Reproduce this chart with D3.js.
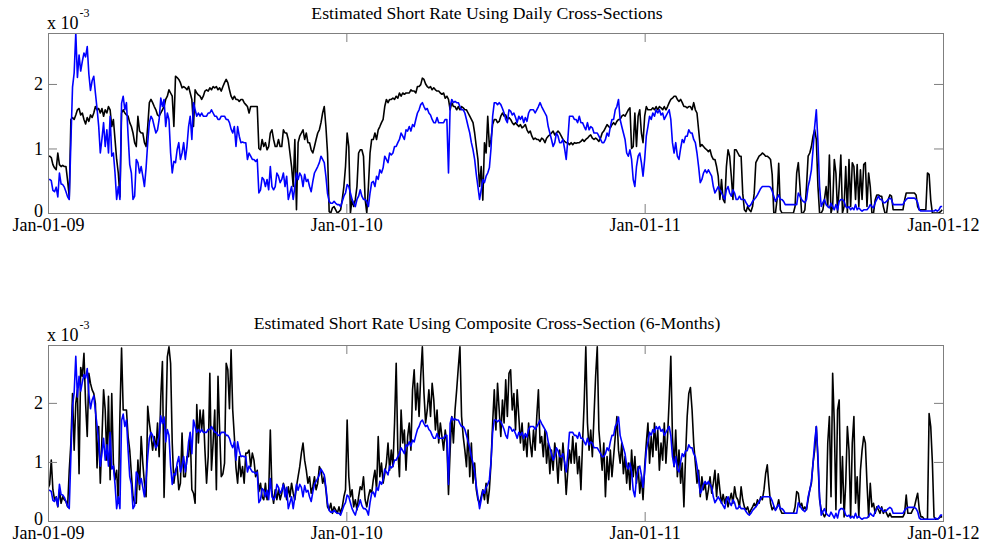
<!DOCTYPE html>
<html>
<head>
<meta charset="utf-8">
<script src="https://cdn.jsdelivr.net/npm/d3@7"></script>
<style>
  html, body { margin: 0; padding: 0; background: #fff; }
  svg { display: block; }
  svg text { font-family: "Liberation Serif", "Times New Roman", Times, serif; }
</style>
</head>
<body>
<svg id="chart" width="982" height="550"></svg>
<script>
// ---- data (rates in units of 10^-3, one observation every two days from Jan-01-09) ----
const startDate = new Date(2009, 0, 1);
const endDate = new Date(2012, 0, 1);
const stepDays = 2;
const tickDates = [new Date(2009, 0, 1), new Date(2010, 0, 1), new Date(2011, 0, 1), new Date(2012, 0, 1)];
const yTickValues = [0, 1, 2];
const scaleExponent = "-3";
const panelTitles = [
  "Estimated Short Rate Using Daily Cross-Sections",
  "Estimated Short Rate Using Composite Cross-Section (6-Months)"
];

// market short rate (blue, shown in both panels)
const marketRate = [
  0.52,0.52,0.50,0.35,0.33,0.40,0.25,0.62,0.45,0.44,0.40,0.33,0.25,0.21,
  1.10,1.95,2.17,2.79,2.10,2.45,2.20,2.35,2.48,2.42,2.58,2.15,1.90,2.05,2.12,1.86,
  1.62,1.35,0.93,1.15,1.40,1.03,1.29,0.93,1.50,0.88,0.93,0.62,0.21,0.41,0.21,
  1.70,1.81,1.60,1.71,1.20,0.75,0.62,0.21,0.26,0.83,0.78,0.62,0.72,0.57,0.41,
  0.70,1.09,1.40,1.50,1.45,1.34,1.24,1.29,1.45,1.78,1.65,1.76,1.34,1.55,1.45,
  0.93,0.62,0.80,0.78,0.98,1.09,0.83,0.93,1.09,0.83,1.03,1.34,1.50,1.14,1.71,
  1.60,1.50,1.55,1.50,1.55,1.50,1.50,1.50,1.55,1.55,1.60,1.55,1.50,1.50,1.45,
  1.45,1.50,1.50,1.50,1.45,1.45,1.40,1.30,1.24,1.34,1.03,1.34,1.19,1.09,1.10,
  1.09,1.09,0.83,0.93,0.88,0.83,0.83,0.80,0.83,0.31,
  0.36,0.55,0.52,0.41,0.52,0.36,0.72,0.41,0.36,0.41,0.62,0.57,0.47,0.52,0.62,
  0.41,0.57,0.21,0.31,0.41,0.21,0.41,0.62,0.52,0.62,0.57,0.41,0.60,0.49,0.52,
  0.41,0.33,0.49,0.62,0.67,0.72,0.78,0.88,0.83,0.78,0.57,0.30,0.18,0.15,0.15,
  0.18,0.15,0.13,0.13,0.10,0.18,0.26,0.31,0.44,0.41,0.31,0.21,0.15,0.10,0.21,
  0.26,0.36,0.26,0.21,0.21,0.18,0.10,0.31,0.47,0.49,0.41,0.57,0.52,0.67,0.62,
  0.70,0.88,0.83,0.78,0.93,0.90,0.93,1.03,1.03,1.09,1.14,1.24,1.19,1.14,1.29,
  1.27,1.34,1.27,1.37,1.34,1.45,1.55,1.60,1.68,1.71,1.65,1.60,1.62,1.55,1.52,
  1.45,1.40,1.40,1.48,1.40,1.40,1.40,1.40,1.45,1.45,0.62,1.65,1.76,1.71,1.73,
  1.71,1.71,1.65,1.60,1.60,1.55,1.45,1.34,1.24,1.09,0.98,0.83,0.60,0.41,0.21,
  0.36,0.52,0.47,0.57,0.62,0.70,1.00,1.50,1.71,1.71,1.68,1.71,
  1.68,1.62,1.55,1.45,1.40,1.60,1.58,1.52,1.55,1.48,1.40,1.50,1.45,1.50,1.40,
  1.48,1.42,1.55,1.60,1.60,1.60,1.55,1.60,1.65,1.71,1.65,1.60,1.55,1.50,1.34,
  1.24,1.14,1.03,1.09,1.24,1.19,1.09,1.09,1.14,1.00,0.83,1.14,1.50,1.50,1.50,
  1.45,1.45,1.40,1.50,1.40,1.40,1.34,1.29,1.40,1.29,1.34,1.32,1.24,1.24,1.24,
  1.19,1.14,1.09,1.09,1.14,1.24,1.19,1.34,1.45,1.45,1.60,1.65,1.76,1.45,1.34,
  1.24,1.14,0.93,0.88,0.98,0.83,0.52,0.41,0.72,0.88,0.93,0.78,0.57,0.83,1.19,
  1.34,1.50,1.45,1.55,1.50,1.60,1.55,1.60,1.52,1.55,1.45,1.50,1.55,1.60,1.45,
  1.09,0.93,1.09,0.88,0.83,1.00,1.14,1.09,1.19,1.19,1.29,1.24,1.24,1.14,1.09,
  0.93,0.72,0.47,0.52,0.62,0.67,0.62,0.67,0.62,0.57,0.41,0.31,0.36,0.41,0.36,
  0.31,0.26,0.21,0.36,0.41,0.31,0.26,0.36,0.31,0.21,0.21,0.26,
  0.21,0.21,0.21,0.16,0.12,0.10,0.13,0.18,0.21,0.24,0.28,0.33,0.38,0.41,0.41,
  0.41,0.41,0.41,0.40,0.34,0.26,0.18,0.23,0.28,0.21,0.21,0.18,0.13,0.13,0.13,
  0.13,0.13,0.13,0.13,0.13,0.31,0.26,0.21,0.18,0.16,0.21,0.41,0.52,0.67,0.98,
  1.34,1.60,1.10,0.41,0.10,0.16,0.21,0.13,0.10,0.08,0.15,0.10,0.05,0.13,0.05,
  0.18,0.21,0.21,0.18,0.10,0.08,0.10,0.05,0.08,0.05,0.13,0.05,0.08,0.05,0.03,
  0.05,0.05,0.05,0.08,0.13,0.10,0.08,0.16,0.21,0.26,0.21,0.21,0.16,0.16,0.18,
  0.21,0.23,0.21,0.13,0.13,0.13,0.13,0.13,0.13,0.13,0.18,0.21,0.23,0.23,0.23,
  0.23,0.23,0.21,0.16,0.05,0.03,0.03,0.03,0.03,0.03,0.03,0.03,0.03,0.03,0.05,
  0.03,0.05,0.10,0.10
];

// short rate estimated from daily cross-sections (black, top panel)
const dailyEstimate = [
  0.88,0.88,0.86,0.75,0.70,0.67,0.93,0.75,0.72,0.74,0.72,0.72,0.50,0.25,
  1.45,1.48,1.45,1.52,1.60,1.62,1.52,1.55,1.45,1.38,1.48,1.42,1.52,1.48,1.55,1.65,
  1.60,1.62,1.55,1.62,1.50,1.60,1.55,1.65,1.60,1.34,1.45,1.14,0.83,0.62,0.25,
  1.55,1.60,1.55,1.52,1.50,1.40,1.34,1.24,1.09,1.03,1.50,1.27,1.24,1.24,1.09,
  1.03,1.34,1.71,1.76,1.71,1.65,1.60,1.52,1.50,1.55,1.60,1.65,1.76,1.81,1.91,
  1.86,1.81,1.34,2.12,2.10,2.07,2.02,1.94,1.96,1.94,1.91,1.96,1.86,1.76,1.34,
  1.91,1.86,1.83,1.81,1.76,1.81,1.89,1.91,1.89,1.94,1.91,1.96,1.94,1.96,1.91,
  1.94,1.89,1.96,2.02,2.07,2.02,1.91,1.81,1.76,1.81,1.76,1.76,1.73,1.76,1.76,
  1.71,1.68,1.65,1.55,1.65,1.65,1.65,1.65,1.65,1.00,
  0.98,1.14,1.03,1.09,0.98,1.03,1.24,1.29,1.14,1.03,1.03,1.14,1.03,1.03,1.29,
  1.24,1.24,1.14,0.93,0.72,0.41,1.14,0.05,1.09,1.19,1.24,1.29,1.14,1.24,1.09,
  1.09,0.98,0.93,1.03,1.14,1.24,1.29,1.40,1.55,1.65,1.34,0.93,0.02,0.00,0.08,
  0.10,0.05,0.00,0.02,0.05,0.21,0.41,0.72,1.24,1.03,0.00,0.21,0.10,0.21,0.41,
  0.93,0.98,0.98,0.88,0.21,0.00,0.41,0.93,1.14,1.14,1.24,1.14,1.29,1.34,1.40,
  1.45,1.65,1.76,1.71,1.76,1.76,1.78,1.76,1.81,1.78,1.86,1.81,1.86,1.84,1.86,
  1.86,1.86,1.91,1.89,1.89,1.86,1.96,1.96,1.99,2.09,2.07,2.00,1.96,1.94,1.96,
  1.91,1.94,1.91,1.89,1.89,1.86,1.84,1.86,1.78,1.81,1.76,1.60,1.71,1.65,1.65,
  1.60,1.65,1.60,1.65,1.63,1.60,1.60,1.55,1.50,1.45,1.40,1.24,1.03,0.83,0.41,
  0.72,0.20,1.09,0.93,1.50,1.03,1.14,1.37,1.45,1.45,1.40,1.42,
  1.50,1.55,1.50,1.52,1.45,1.48,1.45,1.40,1.37,1.40,1.37,1.34,1.37,1.32,1.34,
  1.37,1.29,1.24,1.27,1.19,1.14,1.16,1.14,1.14,1.11,1.16,1.14,1.09,1.16,1.19,
  1.21,1.24,1.27,1.21,1.24,1.27,1.24,1.19,1.14,1.11,1.09,1.09,1.06,1.09,1.06,
  1.09,1.08,1.09,1.09,1.11,1.14,1.11,1.14,1.16,1.19,1.21,1.16,1.14,1.16,1.14,
  1.11,1.16,1.24,1.27,1.32,1.37,1.34,1.32,1.37,1.40,1.37,1.42,1.45,1.45,1.50,
  1.52,1.50,1.55,1.60,1.63,1.00,1.03,1.55,1.03,1.50,1.60,1.24,1.09,1.50,1.65,
  1.60,1.60,1.60,1.63,1.60,1.65,1.60,1.65,1.63,1.60,1.65,1.60,1.65,1.71,1.76,
  1.78,1.81,1.81,1.76,1.73,1.76,1.71,1.65,1.65,1.63,1.65,1.65,1.60,1.71,1.60,
  1.55,1.29,1.03,1.06,1.03,1.00,0.98,0.95,0.98,0.88,0.83,0.83,0.72,0.57,0.21,
  0.52,0.21,0.16,0.72,0.98,0.88,0.57,0.21,0.98,0.98,0.93,0.88,
  0.88,0.30,0.05,0.02,0.10,0.05,0.02,0.10,0.30,0.78,0.83,0.88,0.90,0.93,0.91,
  0.88,0.88,0.86,0.83,0.60,0.00,0.00,0.21,0.77,0.05,0.00,0.00,0.00,0.00,0.00,
  0.00,0.00,0.00,0.10,0.62,0.78,0.41,0.00,0.00,0.05,0.41,0.88,0.93,1.03,1.19,
  1.29,1.14,0.41,0.00,0.00,0.05,0.21,0.41,0.10,0.90,0.00,0.10,0.83,0.62,0.00,
  0.41,0.90,0.00,0.10,0.72,0.00,0.83,0.10,0.78,0.72,0.21,0.75,0.10,0.67,0.21,
  0.75,0.78,0.10,0.62,0.41,0.00,0.00,0.20,0.28,0.28,0.26,0.26,0.10,0.00,0.00,
  0.21,0.28,0.26,0.05,0.05,0.05,0.05,0.05,0.05,0.05,0.20,0.31,0.31,0.31,0.31,
  0.31,0.31,0.28,0.10,0.05,0.05,0.05,0.05,0.05,0.62,0.60,0.20,0.00,0.00,0.00,
  0.00,0.00,0.02,0.05
];

// short rate estimated from the composite 6-month cross-section (black, bottom panel)
const compositeEstimate = [
  0.55,0.62,1.03,0.53,0.36,0.41,0.24,0.53,0.30,0.41,0.36,0.33,0.24,0.86,
  1.32,2.16,1.20,1.99,2.22,0.80,2.60,2.45,2.84,1.99,1.43,2.50,2.33,2.22,2.16,1.99,
  0.90,1.60,0.64,1.40,2.22,1.88,1.03,2.11,0.70,2.16,0.98,0.70,0.86,0.30,1.80,
  2.93,1.88,1.88,1.88,1.43,1.20,0.80,0.41,0.30,0.30,1.03,0.53,1.43,0.98,0.64,
  0.41,1.94,1.66,1.45,1.20,1.43,1.20,1.66,1.09,2.10,2.70,0.40,1.50,2.78,2.95,
  2.67,1.32,0.64,0.86,0.92,0.53,0.64,1.49,0.75,0.75,1.09,1.09,1.49,0.53,0.47,
  0.30,1.97,1.32,1.88,1.54,1.88,1.20,0.64,1.09,2.50,0.86,1.32,1.88,0.53,2.45,
  1.54,0.75,0.80,0.98,2.67,2.56,1.90,2.90,1.88,1.43,0.90,0.64,1.09,0.75,0.92,
  0.64,1.15,1.15,1.20,0.92,1.15,1.03,0.75,0.86,0.50,
  0.64,0.41,0.36,0.64,0.36,0.47,1.54,0.50,0.30,0.53,0.36,0.53,0.36,0.47,0.64,
  0.53,0.36,0.58,0.41,0.64,0.47,0.36,0.58,0.75,0.92,1.15,1.32,1.03,0.86,0.64,
  0.75,0.47,0.58,0.75,0.53,0.64,0.92,0.86,0.64,0.75,0.53,0.24,0.19,0.30,0.13,
  0.24,0.19,0.13,0.24,0.13,0.24,0.41,0.53,1.71,0.75,0.41,0.53,0.24,0.36,0.19,
  0.41,0.58,0.53,0.75,0.36,0.24,0.41,0.53,0.47,0.70,0.86,0.53,1.43,0.75,0.98,
  0.64,0.80,0.98,1.32,0.86,1.20,0.92,1.66,2.67,1.20,0.75,1.88,1.32,1.54,0.86,
  1.43,1.66,1.20,2.22,2.56,1.88,2.33,1.77,2.45,2.95,2.16,1.66,1.88,2.22,1.77,
  2.33,2.05,1.54,1.88,1.32,1.66,1.43,1.20,1.54,1.32,0.45,1.20,1.77,1.32,1.88,
  2.22,2.60,2.95,1.77,1.43,1.20,0.92,1.54,0.75,1.32,0.64,0.98,0.53,0.36,0.30,
  0.41,0.53,0.36,0.64,0.30,0.53,0.98,1.66,2.22,1.54,2.33,1.88,
  1.43,2.05,1.66,2.39,1.77,2.50,2.56,1.88,2.16,1.54,2.22,1.77,1.32,1.66,1.20,
  1.43,1.09,1.66,1.32,1.09,1.54,1.20,1.77,2.22,1.32,1.43,1.09,1.54,0.98,1.32,
  0.80,1.20,0.86,1.32,1.09,0.64,1.20,0.86,1.32,0.98,0.45,0.86,1.20,0.98,1.43,
  0.98,1.32,0.80,1.09,0.53,1.32,2.00,2.95,1.66,1.20,1.54,1.09,1.77,2.45,2.95,
  1.54,1.20,0.86,1.32,0.41,1.09,0.70,1.20,0.75,1.09,1.43,1.77,1.20,0.98,1.32,
  0.80,1.09,0.64,0.98,0.53,1.20,0.75,1.09,0.64,0.92,0.47,0.75,0.36,0.92,1.32,
  1.66,0.98,1.43,1.09,1.66,1.20,1.54,0.86,1.32,1.03,1.66,0.98,1.43,2.05,2.79,
  1.43,0.92,1.54,0.75,1.20,0.64,0.98,0.24,1.09,1.77,2.16,2.26,1.88,1.32,0.98,
  0.64,0.86,0.41,0.75,0.53,0.64,0.36,0.53,0.75,0.47,0.64,0.86,0.41,0.80,0.53,
  0.30,0.45,0.30,0.41,0.24,0.36,0.47,0.30,0.58,0.41,0.36,0.24,
  0.58,0.36,0.24,0.19,0.24,0.13,0.19,0.24,0.30,0.24,0.36,0.30,0.41,0.36,0.53,
  0.80,0.95,0.60,0.30,0.19,0.24,0.19,0.24,0.36,0.19,0.13,0.13,0.13,0.13,0.13,
  0.13,0.13,0.13,0.24,0.50,0.47,0.24,0.30,0.19,0.24,0.19,0.36,0.53,0.64,0.98,
  1.20,1.60,1.03,0.36,0.19,0.13,0.07,0.13,1.32,1.77,0.41,2.50,1.66,0.19,1.88,
  2.05,0.30,1.09,0.07,0.64,1.60,1.20,0.07,1.32,1.77,0.30,0.75,0.07,0.86,1.20,
  1.43,1.32,0.64,0.07,0.64,0.24,0.30,0.13,0.24,0.19,0.13,0.24,0.13,0.19,0.13,
  0.07,0.13,0.07,0.07,0.07,0.07,0.07,0.07,0.07,0.07,0.13,0.44,0.13,0.13,0.13,
  0.19,0.24,0.36,0.47,0.19,0.07,0.07,0.03,0.03,0.03,1.82,1.60,1.00,0.07,0.03,
  0.03,0.05,0.07,0.07
];

// ---- layout ----
const plotLeft = 48, plotRight = 943;
const panels = [
  { title: panelTitles[0], top: 33, bottom: 213, yMax: 2.79, titleY: 19, estimate: dailyEstimate },
  { title: panelTitles[1], top: 345, bottom: 521, yMax: 2.98, titleY: 329, estimate: compositeEstimate }
];
const serif = '"Liberation Serif", "Times New Roman", Times, serif';
const fontSize = 18;
const axisGray = "#7f7f7f";
const tickLen = 9;

const svg = d3.select("#chart");
const dateAt = i => d3.timeDay.offset(startDate, i * stepDays);
const fmt = d3.timeFormat("%b-%d-%y");

const x = d3.scaleTime().domain([startDate, endDate]).range([plotLeft, plotRight]);

panels.forEach((p, pi) => {
  const y = d3.scaleLinear().domain([0, p.yMax]).range([p.bottom, p.top]);
  const g = svg.append("g");

  // plotting area clip
  const clipId = "clip" + pi;
  svg.append("clipPath").attr("id", clipId)
    .append("rect").attr("x", plotLeft).attr("y", p.top)
    .attr("width", plotRight - plotLeft).attr("height", p.bottom - p.top);

  const line = d3.line()
    .x((d, i) => x(dateAt(i)))
    .y(d => y(d));

  const lines = g.append("g").attr("clip-path", `url(#${clipId})`);
  lines.append("path").datum(p.estimate)
    .attr("d", line).attr("fill", "none")
    .attr("stroke", "#000").attr("stroke-width", 1.6).attr("stroke-linejoin", "round");
  lines.append("path").datum(marketRate)
    .attr("d", line).attr("fill", "none")
    .attr("stroke", "#0000ff").attr("stroke-width", 1.6).attr("stroke-linejoin", "round");

  // axes with inward ticks on all four sides
  const styleAxis = sel => {
    sel.attr("font-family", serif).attr("font-size", fontSize);
    sel.select(".domain").remove();
    sel.selectAll(".tick line").attr("stroke", axisGray);
    sel.selectAll(".tick text").attr("fill", "#000").attr("font-family", serif);
  };
  g.append("g").attr("transform", `translate(0,${p.bottom})`)
    .call(d3.axisBottom(x).tickValues(tickDates).tickFormat(fmt).tickSize(-tickLen).tickPadding(5))
    .call(styleAxis);
  g.append("g").attr("transform", `translate(0,${p.top})`)
    .call(d3.axisTop(x).tickValues(tickDates).tickFormat("").tickSize(-tickLen))
    .call(styleAxis);
  const left = g.append("g").attr("transform", `translate(${plotLeft},0)`)
    .call(d3.axisLeft(y).tickValues(yTickValues).tickFormat(d3.format("d")).tickSize(-tickLen).tickPadding(5))
    .call(styleAxis);
  // the zero label sits slightly above its tick so it clears the date label below
  left.selectAll(".tick text").filter(d => d === 0).attr("y", -2);
  g.append("g").attr("transform", `translate(${plotRight},0)`)
    .call(d3.axisRight(y).tickValues(yTickValues).tickFormat("").tickSize(-tickLen))
    .call(styleAxis);

  // frame
  g.append("rect")
    .attr("x", plotLeft + 0.5).attr("y", p.top + 0.5)
    .attr("width", plotRight - plotLeft).attr("height", p.bottom - p.top)
    .attr("fill", "none").attr("stroke", axisGray).attr("stroke-width", 1);

  // exponent label
  const base = g.append("text")
    .attr("x", plotLeft - 1).attr("y", p.top - 4)
    .attr("font-family", serif).attr("font-size", fontSize).text("x 10");
  const bw = base.node().getComputedTextLength();
  g.append("text")
    .attr("x", plotLeft - 1 + bw + 1).attr("y", p.top - 16)
    .attr("font-family", serif).attr("font-size", 12).text(scaleExponent);

  // title
  g.append("text")
    .attr("x", 487).attr("y", p.titleY)
    .attr("text-anchor", "middle")
    .attr("font-family", serif).attr("font-size", 17.7)
    .text(p.title);
});
</script>
</body>
</html>
